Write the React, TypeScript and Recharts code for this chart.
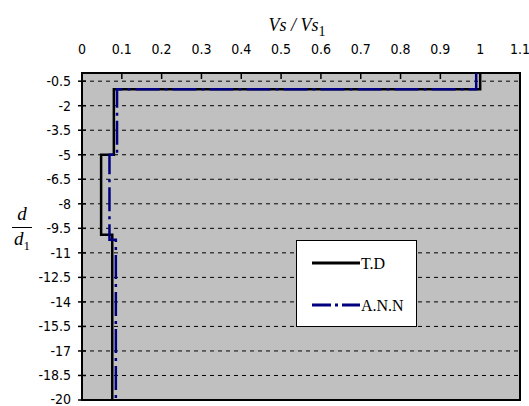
import { CartesianGrid, Legend, Line, LineChart, ReferenceArea, XAxis, YAxis } from "recharts";

const xTicks = [0, 0.1, 0.2, 0.3, 0.4, 0.5, 0.6, 0.7, 0.8, 0.9, 1, 1.1];
const yTicks = [-0.5, -2, -3.5, -5, -6.5, -8, -9.5, -11, -12.5, -14, -15.5, -17, -18.5, -20];

// T.D profile (step shape)
const tdVs = [1.0, 1.0, 0.08, 0.08, 0.048, 0.048, 0.076, 0.076];
const tdDepth = [0, -1, -1, -5, -5, -9.9, -9.9, -20];

// A.N.N profile
const annVs = [0.99, 0.99, 0.088, 0.088, 0.069, 0.069, 0.085, 0.085];
const annDepth = [0, -1, -1, -5, -5, -10.2, -10.2, -20];

const seriesOrder = ["T.D", "A.N.N"];

const tdData = tdVs.map((v, i) => ({ v, d: tdDepth[i] }));
const annData = annVs.map((v, i) => ({ v, d: annDepth[i] }));

const W = 529;
const H = 406;
const PLOT_LEFT = 82;
const PLOT_TOP = 73;
const NARROW = "'DejaVu Sans Condensed', 'Liberation Sans Narrow', 'Arial Narrow', sans-serif";
const SERIF = "'Liberation Serif', 'Times New Roman', serif";

function XTick({ x, payload }: any) {
  return (
    <g>
      <text x={x} y={54} textAnchor="middle" fontSize={14} fontFamily={NARROW} fill="#000">
        {payload.value}
      </text>
      <line x1={x} x2={x} y1={PLOT_TOP} y2={PLOT_TOP + 6} stroke="#000" strokeWidth={1.5} />
    </g>
  );
}

function YTick({ y, payload }: any) {
  // the bottom label sits on the picture's edge, keep it inside
  const ty = Math.min(y + 5, H - 2);
  return (
    <g>
      <text x={PLOT_LEFT - 11} y={ty} textAnchor="end" fontSize={14} fontFamily={NARROW} fill="#000">
        {payload.value}
      </text>
      <line x1={PLOT_LEFT - 4} x2={PLOT_LEFT + 4} y1={y} y2={y} stroke="#000" strokeWidth={1.5} />
    </g>
  );
}

function LegendBox({ payload }: any) {
  const items = [...(payload || [])].sort(
    (a: any, b: any) => seriesOrder.indexOf(a.value) - seriesOrder.indexOf(b.value),
  );
  return (
    <div
      style={{
        width: 121,
        height: 87,
        background: "#fff",
        border: "1px solid #000",
        boxSizing: "border-box",
      }}
    >
      <svg width={119} height={85}>
        {items.map((p: any, i: number) => {
          const y = 22 + i * 42;
          return (
            <g key={p.value}>
              <line
                x1={15}
                x2={63}
                y1={y}
                y2={y}
                stroke={p.color}
                strokeWidth={3}
                strokeDasharray={p.payload?.strokeDasharray ? "19 4 3 4" : undefined}
              />
              <text x={64} y={y + 6} fontSize={16} fontFamily={SERIF} fill="#000">
                {p.value}
              </text>
            </g>
          );
        })}
      </svg>
    </div>
  );
}

export default function App() {
  return (
    <div style={{ position: "absolute", left: 0, top: 0, width: W, height: H, background: "#fff" }}>
      <LineChart width={W} height={H} margin={{ top: PLOT_TOP - 30, right: 9, bottom: 6, left: 0 }}>
        <CartesianGrid
          vertical={false}
          stroke="#000"
          strokeDasharray="4 4"
          fill="#c0c0c0"
          fillOpacity={1}
        />
        <XAxis
          type="number"
          dataKey="v"
          orientation="top"
          height={30}
          domain={[0, 1.1]}
          ticks={xTicks}
          interval={0}
          axisLine={false}
          tickLine={false}
          tick={<XTick />}
          allowDataOverflow
        />
        <YAxis
          type="number"
          dataKey="d"
          width={PLOT_LEFT}
          domain={[-20, 0]}
          ticks={yTicks}
          interval={0}
          axisLine={false}
          tickLine={false}
          tick={<YTick />}
          allowDataOverflow
        />
        <ReferenceArea
          x1={0}
          x2={1.1}
          y1={-20}
          y2={0}
          fill="none"
          fillOpacity={0}
          stroke="#000"
          strokeWidth={2}
          ifOverflow="visible"
        />
        <Line
          data={tdData}
          dataKey="d"
          name="T.D"
          type="linear"
          stroke="#000"
          strokeWidth={2.5}
          dot={false}
          activeDot={false}
          isAnimationActive={false}
        />
        <Line
          data={annData}
          dataKey="d"
          name="A.N.N"
          type="linear"
          stroke="#000080"
          strokeWidth={2.5}
          strokeDasharray="24 5 3 5"
          dot={false}
          activeDot={false}
          isAnimationActive={false}
        />
        <Legend
          layout="horizontal"
          align="center"
          verticalAlign="middle"
          content={<LegendBox />}
          wrapperStyle={{ left: 296, top: 240, width: 121, height: 87 }}
        />
      </LineChart>
      <div
        style={{
          position: "absolute",
          left: 262,
          top: 14,
          width: 70,
          textAlign: "center",
          fontFamily: SERIF,
          fontStyle: "italic",
          fontSize: 18,
          lineHeight: "22px",
          whiteSpace: "nowrap",
        }}
      >
        Vs / Vs<sub style={{ fontStyle: "normal", fontSize: 14 }}>1</sub>
      </div>
      <div
        style={{
          position: "absolute",
          left: 10,
          top: 203,
          width: 24,
          textAlign: "center",
          fontFamily: SERIF,
          fontStyle: "italic",
          fontSize: 19,
          lineHeight: "22px",
        }}
      >
        <div>d</div>
        <div style={{ borderTop: "1.5px solid #000", margin: "2px 2px 0" }} />
        <div>
          d<sub style={{ fontStyle: "normal", fontSize: 13 }}>1</sub>
        </div>
      </div>
    </div>
  );
}
